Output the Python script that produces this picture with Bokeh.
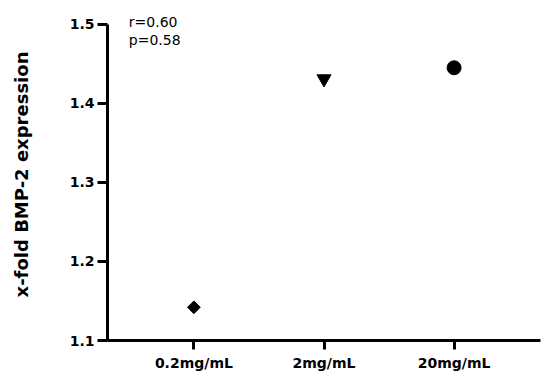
import math
from bokeh.plotting import figure
from bokeh.models import FactorRange, Range1d, FixedTicker, Label, ColumnDataSource
from bokeh.embed import file_html
from bokeh.resources import INLINE

# data
categories = ["0.2mg/mL", "2mg/mL", "20mg/mL"]
expression = [1.142, 1.431, 1.445]
y_ticks = [1.1, 1.2, 1.3, 1.4, 1.5]
stats_text = ["r=0.60", "p=0.58"]

p = figure(width=542, height=373, output_backend="svg", toolbar_location=None,
           x_range=FactorRange(*categories, range_padding=0.164, range_padding_units="absolute"),
           y_range=Range1d(1.1, 1.52),
           min_border_left=107, min_border_right=2, min_border_top=8, min_border_bottom=31)

p.outline_line_color = None
p.grid.visible = False
p.background_fill_color = "white"
p.border_fill_color = "white"

FONT = "DejaVu Sans"

styles = [
    dict(marker="square", size=9, angle=math.pi / 4),
    dict(marker="inverted_triangle", size=14, angle=0),
    dict(marker="circle", size=14, angle=0),
]
for cat, val, st in zip(categories, expression, styles):
    src = ColumnDataSource(dict(x=[cat], y=[val]))
    p.scatter("x", "y", source=src, marker=st["marker"], size=st["size"], angle=st["angle"],
              fill_color="black", line_color="black")

# axes
p.xaxis.axis_line_width = 3
p.xaxis.major_tick_line_width = 3
p.xaxis.major_tick_out = 9
p.xaxis.major_tick_in = 0
p.xaxis.major_label_standoff = 5
p.xaxis.major_label_text_font = FONT
p.xaxis.major_label_text_font_style = "bold"
p.xaxis.major_label_text_font_size = "14px"
p.xaxis.major_label_text_color = "black"
p.xaxis.axis_line_color = "black"
p.xaxis.major_tick_line_color = "black"

p.yaxis.ticker = FixedTicker(ticks=y_ticks)
p.yaxis.bounds = (1.1, 1.5)
p.yaxis.axis_line_width = 3
p.yaxis.major_tick_line_width = 3
p.yaxis.major_tick_out = 10
p.yaxis.major_tick_in = 0
p.yaxis.minor_tick_line_color = None
p.yaxis.major_label_standoff = 3
p.yaxis.major_label_text_font = FONT
p.yaxis.major_label_text_font_style = "bold"
p.yaxis.major_label_text_font_size = "14px"
p.yaxis.major_label_text_color = "black"
p.yaxis.axis_line_color = "black"
p.yaxis.major_tick_line_color = "black"
p.yaxis.axis_label = "x-fold BMP-2 expression"
p.yaxis.axis_label_text_font = FONT
p.yaxis.axis_label_text_font_style = "bold"
p.yaxis.axis_label_text_font_size = "18px"
p.yaxis.axis_label_text_color = "black"
p.yaxis.axis_label_standoff = 35

for txt, yy in zip(stats_text, [1.5025, 1.48]):
    p.add_layout(Label(x=0.0, y=yy, text=txt, text_font=FONT, text_font_size="14px",
                       text_color="black", text_align="left", text_baseline="alphabetic"))

open("out.html", "w").write(file_html(p, INLINE))
